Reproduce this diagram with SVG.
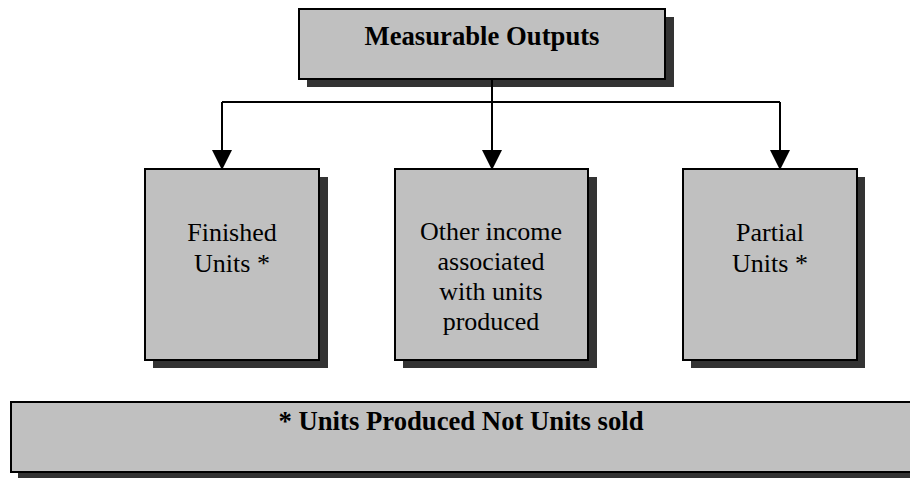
<svg xmlns="http://www.w3.org/2000/svg" width="910" height="478" viewBox="0 0 910 478">
<defs>
<style>
.box{fill:#C0C0C0;stroke:#000;stroke-width:2}
.shadow{fill:#333333}
.t{font-family:"Liberation Serif","Times New Roman",serif;font-size:26px;fill:#000;text-anchor:middle}
.b{font-weight:bold;font-size:26.7px}
.conn{fill:none;stroke:#000;stroke-width:2}
</style>
<marker id="arrow" markerUnits="userSpaceOnUse" markerWidth="20" markerHeight="20" viewBox="0 0 20 20" refX="19" refY="10" orient="auto">
<path d="M0,0 L20,10 L0,20 Z" fill="#000"/>
</marker>
</defs>
<rect width="910" height="478" fill="#fff"/>
<g id="measurable-outputs">
<rect class="shadow" x="307" y="17" width="367" height="70"/>
<rect class="box" x="299" y="9" width="366" height="70"/>
<text class="t b" x="482" y="45">Measurable Outputs</text>
</g>
<g id="connectors">
<path class="conn" d="M222,102 H780"/>
<path class="conn" d="M492,79 V169" marker-end="url(#arrow)"/>
<path class="conn" d="M222,102 V169" marker-end="url(#arrow)"/>
<path class="conn" d="M780,102 V169" marker-end="url(#arrow)"/>
</g>
<g id="finished-units">
<rect class="shadow" x="153" y="177" width="175" height="191"/>
<rect class="box" x="145" y="169" width="174" height="191"/>
<text class="t" x="232" y="241">Finished</text>
<text class="t" x="232" y="272">Units *</text>
</g>
<g id="other-income">
<rect class="shadow" x="403" y="177" width="194" height="191"/>
<rect class="box" x="395" y="169" width="193" height="191"/>
<text class="t" x="491" y="240">Other income</text>
<text class="t" x="491" y="270">associated</text>
<text class="t" x="491" y="300">with units</text>
<text class="t" x="491" y="330">produced</text>
</g>
<g id="partial-units">
<rect class="shadow" x="691" y="177" width="174" height="191"/>
<rect class="box" x="683" y="169" width="174" height="191"/>
<text class="t" x="770" y="241">Partial</text>
<text class="t" x="770" y="272">Units *</text>
</g>
<g id="note">
<rect class="shadow" x="18" y="410" width="900" height="75"/>
<rect class="box" x="11" y="402" width="905" height="70"/>
<text class="t b" x="461" y="430">* Units Produced Not Units sold</text>
</g>
</svg>
